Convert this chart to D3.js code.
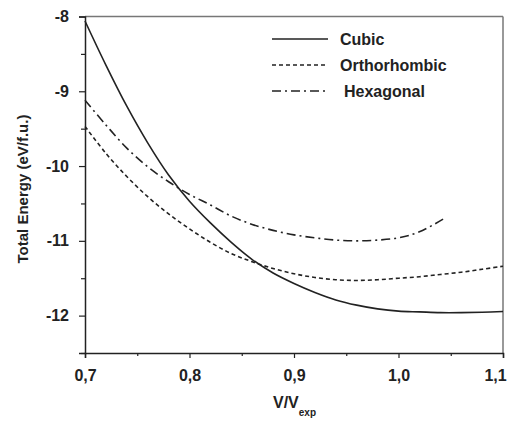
<!DOCTYPE html>
<html><head><meta charset="utf-8">
<script src="https://cdn.jsdelivr.net/npm/d3@7"></script>
<style>
html,body{margin:0;padding:0;background:#fff;}
svg text{font-family:"Liberation Sans",Arial,sans-serif;font-weight:bold;fill:#222;}
</style></head>
<body>
<svg id="c" width="513" height="422"></svg>
<script>
const xVals = [0.70,0.72,0.74,0.76,0.78,0.80,0.82,0.84,0.86,0.88,0.90,0.92,0.94,0.96,0.98,1.00,1.02,1.04,1.06,1.08,1.10];
const cubic = [-8.06,-8.65,-9.20,-9.69,-10.12,-10.47,-10.76,-11.02,-11.25,-11.43,-11.57,-11.69,-11.79,-11.86,-11.91,-11.94,-11.95,-11.96,-11.96,-11.955,-11.945];
const orthorhombic = [-9.47,-9.83,-10.14,-10.41,-10.64,-10.84,-11.02,-11.17,-11.28,-11.37,-11.44,-11.49,-11.52,-11.53,-11.52,-11.50,-11.48,-11.45,-11.42,-11.38,-11.34];
const hexX = [0.70,0.72,0.74,0.76,0.78,0.80,0.82,0.84,0.86,0.88,0.90,0.92,0.94,0.96,0.98,1.00,1.02,1.045];
const hexagonal = [-9.12,-9.45,-9.76,-10.01,-10.21,-10.38,-10.52,-10.67,-10.78,-10.86,-10.92,-10.96,-10.99,-11.00,-10.99,-10.96,-10.88,-10.69];
const xTicks = [0.7,0.8,0.9,1.0,1.1];
const xTickLabels = ["0,7","0,8","0,9","1,0","1,1"];
const xMinor = [0.75,0.85,0.95,1.05];
const yTicks = [-8,-9,-10,-11,-12];
const yMinor = [-8.5,-9.5,-10.5,-11.5,-12.5];
const seriesNames = ["Cubic","Orthorhombic","Hexagonal"];

const svg = d3.select("#c");
const x = d3.scaleLinear().domain([0.7,1.1]).range([85,503]);
const y = d3.scaleLinear().domain([-12.5,-8]).range([353,16.5]);

// frame top/right (grey)
svg.append("line").attr("x1",x(0.7)).attr("x2",x(1.1)).attr("y1",y(-8)).attr("y2",y(-8)).attr("stroke","#777").attr("stroke-width",1.5);
svg.append("line").attr("x1",x(1.1)).attr("x2",x(1.1)).attr("y1",y(-8)).attr("y2",y(-12.5)).attr("stroke","#777").attr("stroke-width",1.5);

// axes
const xAxis = d3.axisBottom(x).tickValues(xTicks).tickFormat((d,i)=>xTickLabels[i]).tickSize(5).tickPadding(12);
const gx = svg.append("g").attr("transform",`translate(0,${y(-12.5)})`).call(xAxis);
const gxm = svg.append("g").attr("transform",`translate(0,${y(-12.5)})`).call(d3.axisBottom(x).tickValues(xMinor).tickFormat("").tickSize(3));
const yAxis = d3.axisLeft(y).tickValues(yTicks).tickFormat(d=>"-"+Math.abs(d)).tickSize(6).tickPadding(10);
const gy = svg.append("g").attr("transform",`translate(${x(0.7)},0)`).call(yAxis);
const gym = svg.append("g").attr("transform",`translate(${x(0.7)},0)`).call(d3.axisLeft(y).tickValues(yMinor).tickFormat("").tickSize(4));
[gx,gxm,gy,gym].forEach(g=>{
  g.selectAll(".domain").attr("stroke","#222").attr("stroke-width",1.5);
  g.selectAll(".tick line").attr("stroke","#222").attr("stroke-width",1.2);
  g.selectAll("text").style("font-size","16px").attr("fill","#222");
});
gxm.select(".domain").remove(); gym.select(".domain").remove();
gx.selectAll(".tick text").filter(d=>d===1.1).attr("dx",-8);

// curves
const line = d3.line().curve(d3.curveCatmullRom);
const dashes = [null,"4,3","9,4,2,4"];
const data = [
  xVals.map((v,i)=>[x(v),y(cubic[i])]),
  xVals.map((v,i)=>[x(v),y(orthorhombic[i])]),
  hexX.map((v,i)=>[x(v),y(hexagonal[i])])
];
data.forEach((d,i)=>{
  svg.append("path").attr("d",line(d)).attr("fill","none").attr("stroke","#222")
    .attr("stroke-width",1.6).attr("stroke-dasharray",dashes[i]);
});

// legend
const legY = [39,65,91];
const legTX = [340,340,344];
seriesNames.forEach((n,i)=>{
  svg.append("line").attr("x1",272).attr("x2",328).attr("y1",legY[i]).attr("y2",legY[i])
    .attr("stroke","#222").attr("stroke-width",1.6).attr("stroke-dasharray",dashes[i]);
  svg.append("text").attr("x",legTX[i]).attr("y",legY[i]+6).style("font-size","16px").text(n);
});

// axis titles
svg.append("text").attr("transform","translate(28,189) rotate(-90)").attr("text-anchor","middle")
  .style("font-size","15px").text("Total Energy (eV/f.u.)");
const xt = svg.append("text").attr("x",273).attr("y",408).attr("text-anchor","start").style("font-size","16px");
xt.append("tspan").text("V/V");
xt.append("tspan").attr("dy",8).style("font-size","10px").text("exp");
</script>
</body></html>
